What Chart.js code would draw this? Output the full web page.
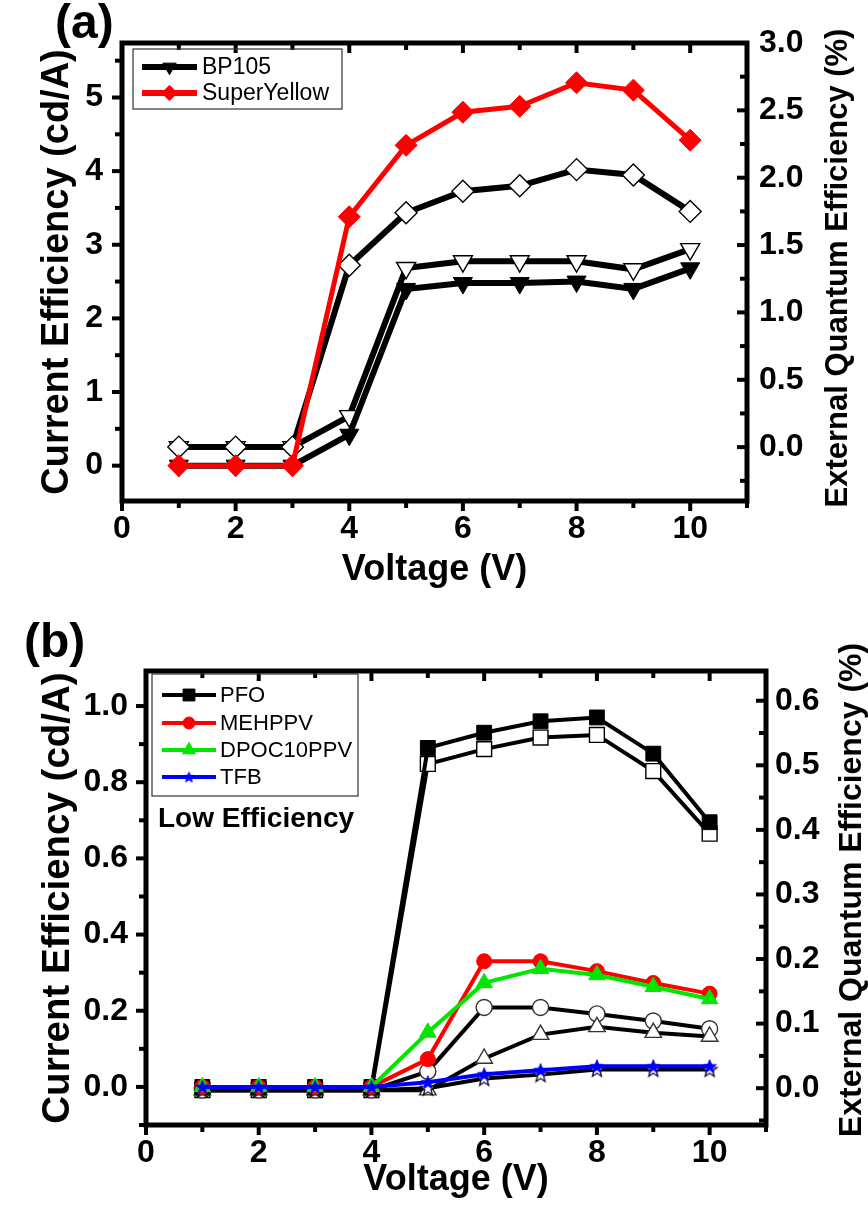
<!DOCTYPE html>
<html>
<head>
<meta charset="utf-8">
<title>Efficiency vs Voltage</title>
<script src="https://cdn.jsdelivr.net/npm/chart.js@4.4.0/dist/chart.umd.min.js"></script>
<style>
  body { margin: 0; background: #fff; }
  #wrap { position: relative; width: 868px; height: 1220px; }
  canvas { position: absolute; left: 0; }
</style>
</head>
<body>
<div id="wrap">
  <canvas id="chartA" width="868" height="600" style="top:0"></canvas>
  <canvas id="chartB" width="868" height="620" style="top:600px"></canvas>
</div>
<script>
/*----------------------------- data -------------------------------------------------*/
const voltage = [1, 2, 3, 4, 5, 6, 7, 8, 9, 10];
const xTickLabels = [0, 2, 4, 6, 8, 10];

// panel (a): current efficiency (cd/A) and EQE (%)
const bp105Current = [0, 0, 0, 0.42, 2.4, 2.48, 2.48, 2.5, 2.4, 2.68];
const superYellowCurrent = [0, 0, 0, 3.38, 4.35, 4.8, 4.88, 5.2, 5.1, 4.42];
const bp105Eqe = [0, 0, 0, 0.23, 1.33, 1.38, 1.38, 1.38, 1.32, 1.47];
const superYellowEqe = [0, 0, 0, 1.35, 1.74, 1.9, 1.94, 2.06, 2.02, 1.75];
const ceTicksA = [0, 1, 2, 3, 4, 5];
const eqeTicksA = [0, 0.5, 1, 1.5, 2, 2.5, 3];

// panel (b): low efficiency polymers
const pfoCurrent = [0, 0, 0, 0, 0.89, 0.93, 0.96, 0.97, 0.875, 0.695];
const mehppvCurrent = [0, 0, 0, 0, 0.073, 0.33, 0.33, 0.304, 0.273, 0.245];
const dpocCurrent = [0, 0, 0, 0, 0.143, 0.273, 0.31, 0.294, 0.263, 0.231];
const tfbCurrent = [0, 0, 0, 0, 0.012, 0.033, 0.044, 0.054, 0.054, 0.054];
const pfoEqe = [-0.003, -0.003, -0.003, -0.003, 0.502, 0.525, 0.543, 0.547, 0.491, 0.394];
const mehppvEqe = [-0.003, -0.003, -0.003, -0.003, 0.026, 0.125, 0.125, 0.115, 0.104, 0.092];
const dpocEqe = [-0.003, -0.003, -0.003, -0.003, -0.003, 0.046, 0.083, 0.095, 0.086, 0.08];
const tfbEqe = [-0.003, -0.003, -0.003, -0.003, 0, 0.015, 0.021, 0.029, 0.029, 0.029];
const ceTicksB = [0, 0.2, 0.4, 0.6, 0.8, 1.0];
const eqeTicksB = [0, 0.1, 0.2, 0.3, 0.4, 0.5, 0.6];

/*----------------------------- helpers -------------------------------------------------*/
const FONT = '"Liberation Sans", Arial, sans-serif';
const RED = '#ff0000', GREEN = '#00e600', BLUE = '#0000ff', BLACK = '#000000';

const pts = arr => voltage.map((v, i) => ({ x: v, y: arr[i] }));
const hasTick = (list, v) => list.some(t => Math.abs(t - v) < 1e-6);

function makeStar(size, fill, stroke, lw) {
    const c = document.createElement('canvas');
    c.width = size; c.height = size;
    const g = c.getContext('2d');
    const cx = size / 2, cy = size / 2 + 0.5, R = size / 2 - lw, r = R * 0.42;
    g.beginPath();
    for (let i = 0; i < 10; i++) {
        const ang = -Math.PI / 2 + i * Math.PI / 5;
        const rad = i % 2 === 0 ? R : r;
        g.lineTo(cx + rad * Math.cos(ang), cy + rad * Math.sin(ang));
    }
    g.closePath();
    g.fillStyle = fill; g.fill();
    g.lineWidth = lw; g.strokeStyle = stroke; g.stroke();
    return c;
}
const starFilled = makeStar(16, BLUE, BLUE, 1);
const starOpen = makeStar(18, '#fff', '#111', 1.3);
const starLegend = makeStar(13, BLUE, BLUE, 1);

function filled(label, data, color, style, radius, lineWidth, axis, extra) {
    return Object.assign({
        label: label, data: pts(data), yAxisID: axis,
        borderColor: color, backgroundColor: color, borderWidth: lineWidth,
        pointStyle: style, pointRadius: radius, pointBorderWidth: 1,
        pointBorderColor: color, pointBackgroundColor: color, tension: 0
    }, extra || {});
}
function open(label, data, edge, style, radius, lineWidth, axis, extra) {
    return Object.assign({
        label: label, data: pts(data), yAxisID: axis,
        borderColor: BLACK, backgroundColor: '#fff', borderWidth: lineWidth,
        pointStyle: style, pointRadius: radius, pointBorderWidth: 1.4,
        pointBorderColor: edge, pointBackgroundColor: '#fff', tension: 0
    }, extra || {});
}

/*----------------------------- frame + ticks plugin -------------------------------------------------*/
const frameTicks = {
    id: 'frameTicks',
    afterDatasetsDraw(chart, args, o) {
        const { ctx, chartArea: a, scales } = chart;
        ctx.save();
        ctx.strokeStyle = BLACK;
        ctx.lineWidth = 5;
        ctx.strokeRect(a.left, a.top, a.right - a.left, a.bottom - a.top);
        ctx.lineWidth = 4;
        const line = (x1, y1, x2, y2) => { ctx.beginPath(); ctx.moveTo(x1, y1); ctx.lineTo(x2, y2); ctx.stroke(); };
        const len = major => (major ? 10 : 7);
        scales.x.ticks.forEach(t => {
            if (Math.abs(t.value - Math.round(t.value)) > 1e-6) return;
            const p = scales.x.getPixelForValue(t.value);
            const m = hasTick(o.xMajor, t.value);
            line(p, a.bottom, p, a.bottom + len(m));
            line(p, a.top, p, a.top + len(m));
        });
        scales.y.ticks.forEach(t => {
            if (Math.abs(t.value / o.yStep - Math.round(t.value / o.yStep)) > 1e-6) return;
            const p = scales.y.getPixelForValue(t.value);
            line(a.left, p, a.left - len(hasTick(o.yMajor, t.value)), p);
        });
        scales.y2.ticks.forEach(t => {
            if (Math.abs(t.value / o.y2Step - Math.round(t.value / o.y2Step)) > 1e-6) return;
            const p = scales.y2.getPixelForValue(t.value);
            line(a.right, p, a.right - len(hasTick(o.y2Major, t.value)), p);
        });
        ctx.restore();
    }
};

/*----------------------------- labels + legend plugin -------------------------------------------------*/
const decor = {
    id: 'decor',
    afterDraw(chart, args, o) {
        const ctx = chart.ctx;
        ctx.save();
        ctx.fillStyle = BLACK;
        // panel letter
        ctx.font = 'bold ' + o.panel.size + 'px ' + FONT;
        ctx.textBaseline = 'alphabetic';
        ctx.textAlign = 'left';
        ctx.fillText(o.panel.text, o.panel.x, o.panel.y);
        // right axis title, reading upwards
        ctx.font = 'bold ' + o.rightTitle.size + 'px ' + FONT;
        ctx.translate(o.rightTitle.x, o.rightTitle.y);
        ctx.rotate(-Math.PI / 2);
        ctx.textAlign = 'center';
        ctx.textBaseline = 'middle';
        ctx.fillText(o.rightTitle.text, 0, 0);
        ctx.setTransform(1, 0, 0, 1, 0, 0);
        // note
        if (o.note) {
            ctx.font = 'bold ' + o.note.size + 'px ' + FONT;
            ctx.textAlign = 'left';
            ctx.fillText(o.note.text, o.note.x, o.note.y);
        }
        // legend
        const L = o.legend;
        ctx.lineWidth = 1.2;
        ctx.strokeStyle = '#333';
        ctx.strokeRect(L.box[0], L.box[1], L.box[2], L.box[3]);
        ctx.font = L.size + 'px ' + FONT;
        ctx.textAlign = 'left';
        ctx.textBaseline = 'middle';
        L.items.forEach((idx, k) => {
            const ds = chart.data.datasets[idx];
            const y = L.rows[k];
            ctx.strokeStyle = ds.borderColor;
            ctx.lineWidth = L.lineWidth;
            ctx.beginPath(); ctx.moveTo(L.x1, y); ctx.lineTo(L.x2, y); ctx.stroke();
            ctx.fillStyle = ds.pointBackgroundColor;
            ctx.strokeStyle = ds.pointBorderColor;
            ctx.lineWidth = 1;
            const style = ds.pointStyle === starFilled ? starLegend : ds.pointStyle;
            Chart.helpers.drawPoint(ctx, {
                pointStyle: style, rotation: ds.pointRotation || 0,
                radius: ds.pointRadius * L.markerScale, borderWidth: 1
            }, (L.x1 + L.x2) / 2, y);
            ctx.fillStyle = BLACK;
            ctx.fillText(ds.label, L.textX, y + 1);
        });
        ctx.restore();
    }
};

/*----------------------------- shared options -------------------------------------------------*/
const tickFont = { family: FONT, size: 32, weight: 'bold' };

function axis(pos, min, max, step, width, pad, labels, fmt, title) {
    return {
        type: 'linear', position: pos, min: min, max: max,
        afterFit: s => { s.width = width; },
        grid: { display: false, drawTicks: false },
        border: { display: false },
        ticks: {
            stepSize: step, autoSkip: false, includeBounds: false, padding: pad, color: BLACK, font: tickFont,
            callback: v => hasTick(labels, v) ? fmt(v) : ''
        },
        title: title
    };
}
function xAxis(height, padBottom) {
    return {
        type: 'linear', min: 0, max: 11,
        afterFit: s => { s.height = height; },
        grid: { display: false, drawTicks: false },
        border: { display: false },
        ticks: {
            stepSize: 1, autoSkip: false, includeBounds: false, maxRotation: 0, padding: 9,
            color: BLACK, font: tickFont,
            callback: v => xTickLabels.includes(v) ? String(v) : ''
        },
        title: {
            display: true, text: 'Voltage (V)', color: BLACK,
            font: { family: FONT, size: 36, weight: 'bold' }, padding: { top: 0, bottom: padBottom }
        }
    };
}

/*----------------------------- chart (a) -------------------------------------------------*/
new Chart(document.getElementById('chartA'), {
    type: 'line',
    data: {
        datasets: [
            filled('SuperYellow', superYellowCurrent, RED, 'rectRot', 11, 5, 'y'),
            filled('BP105', bp105Current, BLACK, 'triangle', 11, 6, 'y', { pointRotation: 180 }),
            open('SuperYellow EQE', superYellowEqe, BLACK, 'rectRot', 11, 6, 'y2'),
            open('BP105 EQE', bp105Eqe, BLACK, 'triangle', 11, 6, 'y2', { pointRotation: 180 })
        ]
    },
    options: {
        responsive: false, animation: false, events: [], devicePixelRatio: 1,
        layout: { padding: { top: 43, left: 0, right: 0, bottom: 0 } },
        scales: {
            x: xAxis(99, 8),
            y: axis('left', -0.48, 5.74, 0.5, 122, 19, ceTicksA, v => String(v), {
                display: true, text: 'Current Efficiency (cd/A)', color: BLACK,
                font: { family: FONT, size: 38, weight: 'bold' }, padding: { top: 35, bottom: 0 }
            }),
            y2: axis('right', -0.4, 3.0, 0.25, 121, 12, eqeTicksA, v => v.toFixed(1), { display: false })
        },
        plugins: {
            legend: { display: false }, tooltip: { enabled: false },
            frameTicks: { xMajor: xTickLabels, yMajor: ceTicksA, yStep: 0.5, y2Major: eqeTicksA, y2Step: 0.25 },
            decor: {
                panel: { text: '(a)', size: 48, x: 55, y: 38 },
                rightTitle: { text: 'External Quantum Efficiency (%)', size: 31, x: 838, y: 268 },
                legend: {
                    box: [133, 49, 209, 60], rows: [67, 93], items: [1, 0],
                    x1: 142, x2: 197, textX: 202, size: 23, lineWidth: 6, markerScale: 0.7
                }
            }
        }
    },
    plugins: [frameTicks, decor]
});

/*----------------------------- chart (b) -------------------------------------------------*/
new Chart(document.getElementById('chartB'), {
    type: 'line',
    data: {
        datasets: [
            filled('TFB', tfbCurrent, BLUE, starFilled, 8, 4, 'y'),
            filled('DPOC10PPV', dpocCurrent, GREEN, 'triangle', 9.5, 4, 'y'),
            filled('MEHPPV', mehppvCurrent, RED, 'circle', 7.5, 4, 'y'),
            filled('PFO', pfoCurrent, BLACK, 'rect', 10.5, 4, 'y'),
            open('TFB EQE', tfbEqe, '#111', starOpen, 9, 4, 'y2'),
            open('DPOC10PPV EQE', dpocEqe, '#333', 'triangle', 9.5, 4, 'y2'),
            open('MEHPPV EQE', mehppvEqe, '#333', 'circle', 8, 4, 'y2'),
            open('PFO EQE', pfoEqe, BLACK, 'rect', 10.5, 4, 'y2')
        ]
    },
    options: {
        responsive: false, animation: false, events: [], devicePixelRatio: 1,
        layout: { padding: { top: 71, left: 0, right: 0, bottom: 0 } },
        scales: {
            x: xAxis(95, 18),
            y: axis('left', -0.1, 1.092, 0.1, 146, 18, ceTicksB, v => v.toFixed(1), {
                display: true, text: 'Current Efficiency (cd/A)', color: BLACK,
                font: { family: FONT, size: 38.5, weight: 'bold' }, padding: { top: 35, bottom: 0 }
            }),
            y2: axis('right', -0.057, 0.646, 0.05, 102, 9, eqeTicksB, v => v.toFixed(1), { display: false })
        },
        plugins: {
            legend: { display: false }, tooltip: { enabled: false },
            frameTicks: { xMajor: xTickLabels, yMajor: ceTicksB, yStep: 0.1, y2Major: eqeTicksB, y2Step: 0.05 },
            decor: {
                panel: { text: '(b)', size: 48, x: 24, y: 57 },
                rightTitle: { text: 'External Quantum Efficiency (%)', size: 32, x: 852, y: 290 },
                note: { text: 'Low Efficiency', size: 28, x: 158, y: 219 },
                legend: {
                    box: [152, 74, 206, 122], rows: [95, 123, 150, 177], items: [3, 2, 1, 0],
                    x1: 162, x2: 216, textX: 220, size: 22, lineWidth: 4, markerScale: 0.8
                }
            }
        }
    },
    plugins: [frameTicks, decor]
});
</script>
</body>
</html>
